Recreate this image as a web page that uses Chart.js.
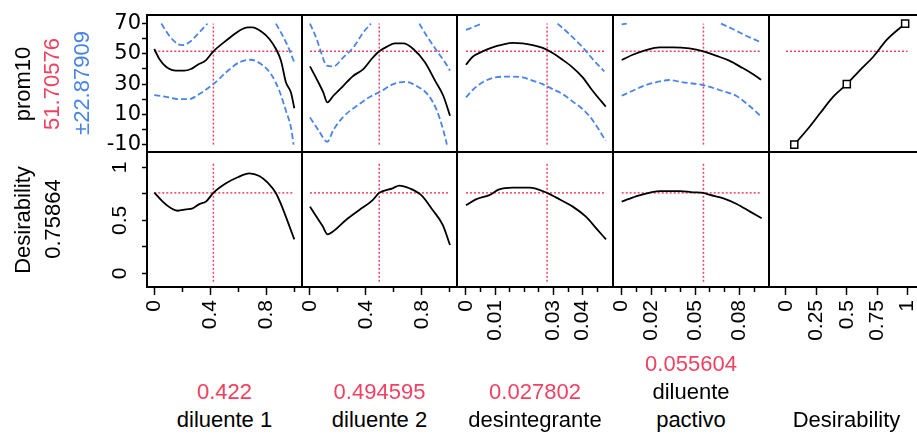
<!DOCTYPE html>
<html><head><meta charset="utf-8">
<script src="https://cdn.jsdelivr.net/npm/chart.js@4.4.1/dist/chart.umd.min.js"></script>
<style>
html,body{margin:0;padding:0;background:#fff;overflow:hidden;width:917px;height:435px;}
#wrap{position:relative;width:917px;height:435px;overflow:hidden;font-family:'Liberation Sans',Arial,sans-serif;}
canvas{position:absolute;}
.frame{position:absolute;box-sizing:border-box;border:2px solid #000;pointer-events:none;}
.t{position:absolute;font-size:22px;line-height:22px;white-space:nowrap;}
.rot{transform:translate(-50%,-50%) rotate(-90deg);}
.hc{transform:translateX(-50%);}
</style></head><body><div id="wrap"></div>
<script>
// ---------------- DATA ----------------
const factorLabels = [['diluente 1'], ['diluente 2'], ['desintegrante'], ['diluente', 'pactivo'], ['Desirability']];
const currentX = [0.422, 0.494595, 0.027802, 0.055604];
const currentXText = ['0.422', '0.494595', '0.027802', '0.055604'];
const factorMax = [1, 1, 0.048, 0.095];
const responseName = 'prom10';
const currentPred = 51.70576;
const currentPredText = '51.70576';
const ciText = '\u00b122.87909';
const currentDes = 0.75864;
const currentDesText = '0.75864';
const predRangeRef = [-10, 70];
const desRangeRef = [-0.08, 1.05];

// diluente 1
const pred1X = [0, 0.036, 0.084, 0.155, 0.214, 0.262, 0.31, 0.37, 0.422, 0.488, 0.548, 0.607, 0.667, 0.702, 0.762, 0.822, 0.869, 0.905, 0.94, 0.976, 1.0];
const pred1Y = [53.2, 46.6, 41.5, 38.9, 38.9, 40.0, 42.8, 45.9, 51.7, 56.9, 61.3, 65.3, 67.5, 67.5, 64.9, 59.8, 53.2, 45.5, 31.2, 24.5, 14.0];
const upper1X = [0.05, 0.107, 0.167, 0.203, 0.25, 0.31, 0.38, 0.6, 0.869, 0.917, 0.952, 1.0];
const upper1Y = [70, 62.0, 56.5, 55.8, 57.6, 63.1, 70, null, 70, 62.0, 55.4, 44.4];
const lower1X = [0, 0.084, 0.167, 0.25, 0.321, 0.422, 0.512, 0.607, 0.69, 0.762, 0.833, 0.893, 0.94, 0.976, 0.995];
const lower1Y = [22.7, 21.6, 20.1, 20.1, 23.4, 30.0, 37.7, 44.4, 46.1, 43.3, 36.7, 25.6, 12.4, 1.4, -10];
const des1X = [0, 0.06, 0.12, 0.167, 0.226, 0.274, 0.322, 0.369, 0.422, 0.512, 0.596, 0.679, 0.75, 0.81, 0.869, 0.917, 0.953, 1.0];
const des1Y = [0.761, 0.676, 0.613, 0.590, 0.603, 0.613, 0.653, 0.676, 0.759, 0.849, 0.906, 0.943, 0.918, 0.855, 0.755, 0.613, 0.487, 0.32];

// diluente 2
const pred2X = [0, 0.048, 0.095, 0.124, 0.167, 0.238, 0.31, 0.381, 0.44, 0.495, 0.55, 0.607, 0.667, 0.738, 0.821, 0.893, 0.952, 1.0];
const pred2Y = [41.7, 33.3, 24.5, 17.9, 22.3, 28.9, 35.5, 39.9, 46.6, 51.7, 54.8, 56.9, 56.9, 53.2, 44.4, 32.3, 22.3, 9.1];
const upper2X = [0, 0.048, 0.083, 0.119, 0.167, 0.238, 0.31, 0.381, 0.435, 0.6, 0.781, 0.833, 0.905, 0.964, 1.0];
const upper2Y = [70, 59.8, 49.9, 42.2, 41.7, 47.7, 54.3, 64.2, 70, null, 70, 62.0, 52.1, 44.4, 38.9];
const lower2X = [0, 0.06, 0.124, 0.167, 0.238, 0.333, 0.429, 0.5, 0.595, 0.679, 0.762, 0.845, 0.905, 0.952, 0.978];
const lower2Y = [8.0, -0.4, -8.1, -0.4, 8.4, 15.5, 21.6, 24.9, 30.0, 31.5, 28.7, 22.7, 12.8, -0.4, -10];
const des2X = [0, 0.043, 0.09, 0.126, 0.162, 0.257, 0.352, 0.448, 0.495, 0.59, 0.638, 0.71, 0.793, 0.876, 0.948, 1.0];
const des2Y = [0.629, 0.540, 0.446, 0.367, 0.392, 0.503, 0.597, 0.691, 0.759, 0.802, 0.827, 0.802, 0.739, 0.597, 0.456, 0.267];

// desintegrante
const pred3X = [0, 0.0023, 0.0057, 0.0091, 0.0126, 0.016, 0.0194, 0.0228, 0.0263, 0.0297, 0.0331, 0.0365, 0.04, 0.0434, 0.0479];
const pred3Y = [42.8, 48.1, 51.6, 54.3, 56.1, 57.2, 56.9, 55.8, 53.9, 50.5, 46.1, 41.1, 34.5, 25.6, 15.1];
const upper3X = [0, 0.0054, 0.02, 0.0314, 0.0354, 0.04, 0.0439, 0.0474];
const upper3Y = [65.8, 70, null, 70, 63.1, 54.3, 45.5, 38.4];
const lower3X = [0, 0.0023, 0.0057, 0.0091, 0.0126, 0.016, 0.0194, 0.0228, 0.0263, 0.0297, 0.0331, 0.0365, 0.04, 0.0434, 0.0479];
const lower3Y = [21.2, 26.1, 31.2, 34.0, 34.9, 34.9, 34.5, 32.3, 30.0, 26.7, 23.4, 18.6, 13.5, 6.2, -7.5];
const des3X = [0, 0.0034, 0.008, 0.0114, 0.016, 0.0217, 0.0278, 0.0308, 0.0366, 0.0411, 0.0451, 0.048];
const des3Y = [0.643, 0.697, 0.738, 0.792, 0.808, 0.808, 0.759, 0.716, 0.629, 0.534, 0.409, 0.32];

// diluente pactivo
const pred4X = [0, 0.0075, 0.0165, 0.0256, 0.0347, 0.046, 0.0556, 0.0641, 0.0732, 0.0823, 0.0891, 0.0948];
const pred4Y = [45.9, 49.4, 52.5, 54.3, 54.3, 53.6, 51.7, 48.8, 45.5, 40.6, 36.7, 32.9];
const upper4X = [0, 0.0034, 0.03, 0.0676, 0.0755, 0.0846, 0.0948];
const upper4Y = [69.5, 70, null, 70, 66.4, 62.0, 57.6];
const lower4X = [0, 0.0075, 0.0165, 0.0233, 0.0324, 0.0415, 0.0551, 0.0664, 0.0778, 0.0868, 0.0948];
const lower4Y = [22.3, 25.6, 29.4, 31.2, 32.7, 31.2, 29.4, 26.1, 22.3, 15.7, 8.6];
const des4X = [0, 0.0102, 0.0193, 0.026, 0.0397, 0.0487, 0.0556, 0.0601, 0.0692, 0.0782, 0.0873, 0.0952];
const des4Y = [0.676, 0.729, 0.761, 0.776, 0.776, 0.764, 0.759, 0.739, 0.707, 0.654, 0.582, 0.519];

// desirability function (x = desirability, y = prom10)
const desFnX = [0.068, 0.184, 0.28, 0.389, 0.5, 0.609, 0.718, 0.828, 0.98];
const desFnY = [-10, 0.8, 10.7, 21.7, 30, 39.3, 48.1, 59.2, 70];
const desCtrlX = [0.068, 0.5, 0.98];
const desCtrlY = [-10, 30, 70];

// ticks
const xMajor = [[0, 0.4, 0.8], [0, 0.4, 0.8], [0, 0.01, 0.03, 0.04], [0, 0.02, 0.05, 0.08], [0, 0.25, 0.5, 0.75, 1]];
const xMajorLabels = [['0', '0.4', '0.8'], ['0', '0.4', '0.8'], ['0', '0.01', '0.03', '0.04'], ['0', '0.02', '0.05', '0.08'], ['0', '0.25', '0.5', '0.75', '1']];
const xMinor = [[0.2, 0.6, 1], [0.2, 0.6, 1], [0.005, 0.015, 0.02, 0.025, 0.035, 0.045], [0.01, 0.03, 0.04, 0.06, 0.07, 0.09], []];
const yTicks = [[-10, 0, 10, 20, 30, 40, 50, 60, 70], [0, 0.25, 0.5, 0.75, 1]];
const yTickLabels = [['-10', '', '10', '', '30', '', '50', '', '70'], ['0', '', '0.5', '', '1']];

// ---------------- LAYOUT ----------------
const colEdges = [147, 302, 457, 613, 769, 924];
const rowEdges = [15, 152, 287];
const xMinMax = [[-0.0521, 1.055], [-0.057, 1.05], [-0.00308, 0.05039], [-0.00592, 0.1002], [-0.1398, 1.135]];
const yMinMax = [[-14.89, 75.69], [-0.1292, 1.1443]];
const RED = '#ef4262', BLUE = '#4a84e6', BLACK = '#000';
const PAD = 12;

Chart.defaults.font.family = "'Liberation Sans', Arial, sans-serif";
Chart.defaults.color = '#000';
const wrap = document.getElementById('wrap');
const pts = (xs, ys) => xs.map((x, i) => ({x: x, y: ys[i]}));

function lineDs(data, color, dash, width, smooth) {
  const ds = {data: data, showLine: true, borderColor: color, borderWidth: width || 1.8, borderDash: dash || [],
    pointRadius: 0, fill: false, spanGaps: false, tension: 0};
  if (smooth) { ds.cubicInterpolationMode = 'monotone'; ds.tension = 0.4; }
  return ds;
}

function build(r, c, datasets) {
  const left = colEdges[c], right = colEdges[c + 1], top = rowEdges[r], bottom = rowEdges[r + 1];
  const yW = c === 0 ? left : 0;
  const xH = r === 1 ? 60 : 0;
  const W = (right - left) + yW + 2 * PAD, H = (bottom - top) + xH + 2 * PAD;
  const cv = document.createElement('canvas');
  cv.width = W; cv.height = H;
  cv.style.left = (left - yW - PAD) + 'px'; cv.style.top = (top - PAD) + 'px';
  cv.style.width = W + 'px'; cv.style.height = H + 'px';
  wrap.appendChild(cv);
  const fr = document.createElement('div');
  fr.className = 'frame';
  fr.style.left = (left - 1) + 'px'; fr.style.top = (top - 1) + 'px';
  fr.style.width = (right - left + 2) + 'px'; fr.style.height = (bottom - top + 2) + 'px';
  wrap.appendChild(fr);

  const zeroPad = s => { s.paddingLeft = 0; s.paddingRight = 0; s.paddingTop = 0; s.paddingBottom = 0; };
  const scales = {
    x: {
      type: 'linear', display: r === 1, min: xMinMax[c][0], max: xMinMax[c][1], weight: 1,
      afterBuildTicks: s => { s.ticks = xMajor[c].map(v => ({value: v})); },
      afterFit: s => { s.height = xH; zeroPad(s); },
      ticks: {autoSkip: false, minRotation: 90, maxRotation: 90, padding: 5, color: '#000', font: {size: 21},
        callback: (v, i) => xMajorLabels[c][i]},
      grid: {display: true, drawOnChartArea: false, drawTicks: true, tickLength: 8, tickColor: '#000', tickWidth: 1.5},
      border: {display: false}
    },
    y: {
      type: 'linear', display: c === 0, min: yMinMax[r][0], max: yMinMax[r][1],
      afterBuildTicks: s => { s.ticks = yTicks[r].map(v => ({value: v})); },
      afterFit: s => { s.width = yW; zeroPad(s); },
      ticks: r === 0
        ? {autoSkip: false, padding: 1, color: '#000', font: {size: 21, family: "'DejaVu Sans', sans-serif"}, callback: (v, i) => yTickLabels[r][i]}
        : {autoSkip: false, minRotation: 90, maxRotation: 90, crossAlign: 'center', padding: 7, color: '#000', font: {size: 21},
           callback: (v, i) => yTickLabels[r][i]},
      grid: {display: true, drawOnChartArea: false, drawTicks: true, tickLength: 5, tickColor: '#000', tickWidth: 1.5},
      border: {display: false}
    }
  };
  if (r === 1 && xMinor[c].length) {
    scales.xm = {
      type: 'linear', position: 'bottom', display: true, min: xMinMax[c][0], max: xMinMax[c][1], weight: 0,
      afterBuildTicks: s => { s.ticks = xMinor[c].map(v => ({value: v})); },
      afterFit: s => { s.height = 0; zeroPad(s); },
      ticks: {display: false, autoSkip: false},
      grid: {display: true, drawOnChartArea: false, drawTicks: true, tickLength: 5, tickColor: '#000', tickWidth: 1.5},
      border: {display: false}
    };
  }
  new Chart(cv, {
    type: 'scatter',
    data: {datasets: datasets},
    options: {
      responsive: false, animation: false, devicePixelRatio: 1, events: [],
      layout: {padding: PAD},
      plugins: {legend: {display: false}, tooltip: {enabled: false}},
      scales: scales
    }
  });
}

const preds = [[pred1X, pred1Y], [pred2X, pred2Y], [pred3X, pred3Y], [pred4X, pred4Y]];
const uppers = [[upper1X, upper1Y], [upper2X, upper2Y], [upper3X, upper3Y], [upper4X, upper4Y]];
const lowers = [[lower1X, lower1Y], [lower2X, lower2Y], [lower3X, lower3Y], [lower4X, lower4Y]];
const dess = [[des1X, des1Y], [des2X, des2Y], [des3X, des3Y], [des4X, des4Y]];

for (let c = 0; c < 4; c++) {
  const hTop = [{x: 0, y: currentPred}, {x: factorMax[c], y: currentPred}];
  const vTop = [{x: currentX[c], y: predRangeRef[0]}, {x: currentX[c], y: predRangeRef[1]}];
  build(0, c, [
    lineDs(pts(preds[c][0], preds[c][1]), BLACK, [], 1.8, true),
    lineDs(pts(uppers[c][0], uppers[c][1]), BLUE, [6, 3], 1.8, true),
    lineDs(pts(lowers[c][0], lowers[c][1]), BLUE, [6, 3], 1.8, true),
    lineDs(hTop, RED, [2, 2], 1.5),
    lineDs(vTop, RED, [2, 2], 1.5)
  ]);
  const hBot = [{x: 0, y: currentDes}, {x: factorMax[c], y: currentDes}];
  const vBot = [{x: currentX[c], y: desRangeRef[0]}, {x: currentX[c], y: desRangeRef[1]}];
  build(1, c, [
    lineDs(pts(dess[c][0], dess[c][1]), BLACK, [], 1.8, true),
    lineDs(hBot, RED, [2, 2], 1.5),
    lineDs(vBot, RED, [2, 2], 1.5)
  ]);
}
build(0, 4, [
  {data: pts(desCtrlX, desCtrlY), showLine: false, pointStyle: 'rect', pointRadius: 5, pointBackgroundColor: '#fff',
   pointBorderColor: '#000', pointBorderWidth: 1.5},
  lineDs(pts(desFnX, desFnY), BLACK, [], 1.8, true),
  lineDs([{x: 0, y: currentPred}, {x: 1, y: currentPred}], RED, [2, 2], 1.5)
]);
build(1, 4, []);

// ---------------- TEXT ----------------
function rotText(s, cx, cy, color) {
  const d = document.createElement('div');
  d.className = 't rot'; d.textContent = s; d.style.color = color;
  d.style.left = cx + 'px'; d.style.top = cy + 'px';
  wrap.appendChild(d);
}
function hText(s, cx, baseline, color) {
  const d = document.createElement('div');
  d.className = 't hc'; d.textContent = s; d.style.color = color;
  d.style.left = cx + 'px'; d.style.top = (baseline - 18.6) + 'px';
  wrap.appendChild(d);
}
rotText(responseName, 22.5, 84.2, '#000');
rotText(currentPredText, 52.2, 83.5, RED);
rotText(ciText, 81.7, 83.3, BLUE);
rotText('Desirability', 22.5, 220, '#000');
rotText(currentDesText, 52.5, 219.2, '#000');

for (let c = 0; c < 5; c++) {
  const cx = (colEdges[c] + colEdges[c + 1]) / 2;
  const lines = factorLabels[c];
  let base = 428;
  for (let k = lines.length - 1; k >= 0; k--) { hText(lines[k], cx, base, '#000'); base -= 28.3; }
  if (c < 4) hText(currentXText[c], cx, base, RED);
}
</script></body></html>
